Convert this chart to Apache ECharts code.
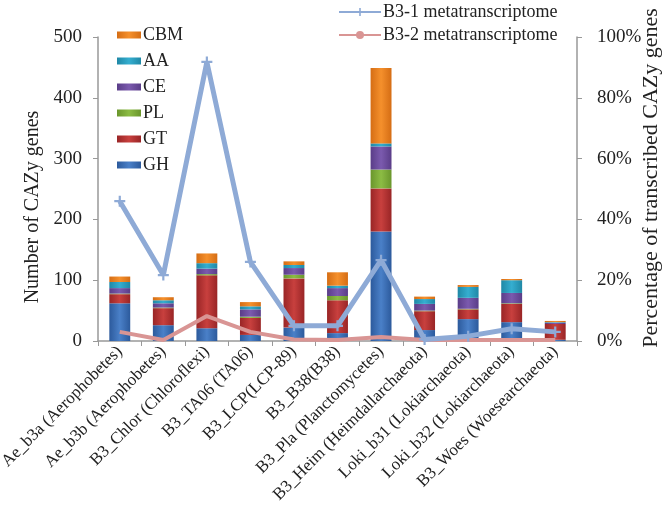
<!DOCTYPE html>
<html>
<head>
<meta charset="utf-8">
<script src="https://cdn.jsdelivr.net/npm/echarts@6/dist/echarts.min.js"></script>
<style>html,body{margin:0;padding:0;background:#fff}#c{width:666px;height:520px}</style>
</head>
<body>
<div id="c"></div>
<script>
const categories = ['Ae_b3a (Aerophobetes)','Ae_b3b (Aerophobetes)','B3_Chlor (Chloroflexi)','B3_TA06 (TA06)','B3_LCP(LCP-89)','B3_B38(B38)','B3_Pla (Planctomycetes)','B3_Heim (Heimdallarchaeota)','Loki_b31 (Lokiarchaeota)','Loki_b32 (Lokiarchaeota)','B3_Woes (Woesearchaeota)'];
const GH  = [62, 26, 21, 10, 22, 13, 180, 18, 36, 31, 2];
const GT  = [15, 28, 87, 28, 81, 54, 71, 31, 16, 30, 26];
const PL  = [1, 1, 2, 2, 6, 7, 31, 1, 1, 1, 0];
const CE  = [9, 7, 9, 12, 11, 13, 38, 11, 18, 17, 2];
const AA  = [10, 5, 9, 5, 5, 4, 5, 8, 18, 21, 1];
const CBM = [9, 5, 16, 7, 6, 22, 124, 4, 3, 2, 2];
const B31 = [46, 21.7, 91.8, 26, 5, 5, 26.6, 0.5, 1.6, 4, 3];
const B32 = [3, 0.3, 8.2, 3, 0.5, 0.3, 1.3, 0.3, 0.3, 0.3, 0.3];
const leftTicks = [0, 500, 100];
const rightTicks = [0, 100, 20];

const serif = 'Liberation Serif';
function grad(light, dark){
  return new echarts.graphic.LinearGradient(0,0,1,0,[
    {offset:0,color:dark},{offset:0.5,color:light},{offset:1,color:dark}]);
}
const stackDefs = [
  ['GH', GH, '#4a80c8', '#2c5a9c'],
  ['GT', GT, '#c8403e', '#992526'],
  ['PL', PL, '#8cbc44', '#6a962c'],
  ['CE', CE, '#7b5aae', '#5a3d88'],
  ['AA', AA, '#35aed0', '#1f88a6'],
  ['CBM', CBM, '#f5902c', '#d56d14']
];
const series = stackDefs.map(d => ({
  name: d[0], type: 'bar', stack: 'cazy', data: d[1], barWidth: '48%',
  itemStyle: {color: grad(d[2], d[3])}, emphasis:{disabled:true}
}));
series.push({
  name: 'B3-1 metatranscriptome', type: 'line', yAxisIndex: 1, data: B31,
  lineStyle: {color: '#8eaad6', width: 5}, itemStyle: {color: '#8eaad6'},
  symbol: 'path://M4,0h2v4h4v2h-4v4h-2v-4h-4v-2h4z', symbolSize: 11, z: 5
});
series.push({
  name: 'B3-2 metatranscriptome', type: 'line', yAxisIndex: 1, data: B32,
  lineStyle: {color: '#d99594', width: 4}, itemStyle: {color: '#d99594'},
  symbol: 'none', z: 4
});

const chart = echarts.init(document.getElementById('c'), null, {renderer:'canvas'});
chart.setOption({
  animation: false,
  textStyle: {fontFamily: serif, color: '#222'},
  grid: {left: 98, right: 89, top: 37, bottom: 179, containLabel: false, outerBoundsMode: 'none'},
  legend: [
    {
      data: ['CBM','AA','CE','PL','GT','GH'], orient: 'vertical', left: 112, top: 21,
      itemWidth: 24, itemHeight: 7, itemGap: 8, icon: 'rect',
      textStyle: {fontFamily: serif, fontSize: 18, color: '#222', padding: [0,0,0,-3]}
    },
    {
      data: ['B3-1 metatranscriptome','B3-2 metatranscriptome'], orient: 'vertical', left: 333, top: -2,
      itemWidth: 42, itemHeight: 10, itemGap: 5,
      textStyle: {fontFamily: serif, fontSize: 18, color: '#222', padding: [0,0,0,-3]}
    }
  ],
  xAxis: {
    type: 'category', data: categories,
    axisLine: {lineStyle: {color: '#999', width: 1.5}},
    axisTick: {show: true, alignWithLabel: false, length: 5, lineStyle:{color:'#999'}},
    axisLabel: {rotate: 45, interval: 0, fontFamily: serif, fontSize: 17, color: '#222', margin: 8}
  },
  yAxis: [
    {
      type: 'value', min: leftTicks[0], max: leftTicks[1], interval: leftTicks[2],
      name: 'Number of CAZy genes', nameLocation: 'middle', nameGap: 55, nameRotate: 90,
      nameMoveOverlap: false,
      nameTextStyle: {fontFamily: serif, fontSize: 20, color: '#222', padding: [0, 36, 0, 0]},
      axisLine: {show: true, lineStyle: {color: '#999', width: 1.5}},
      axisTick: {show: true, length: 5, lineStyle:{color:'#999'}},
      splitLine: {show: false},
      axisLabel: {fontFamily: serif, fontSize: 19, color: '#222', margin: 16}
    },
    {
      type: 'value', min: rightTicks[0], max: rightTicks[1], interval: rightTicks[2],
      name: 'Percentage of transcribed CAZy genes', nameLocation: 'middle', nameGap: 63, nameRotate: 90,
      nameMoveOverlap: false,
      nameTextStyle: {fontFamily: serif, fontSize: 22, color: '#222', padding: [0, 0, 0, 22]},
      axisLine: {show: true, lineStyle: {color: '#999', width: 1.5}},
      axisTick: {show: true, length: 5, lineStyle:{color:'#999'}},
      splitLine: {show: false},
      axisLabel: {fontFamily: serif, fontSize: 19, color: '#222', margin: 20, formatter: '{value}%'}
    }
  ],
  series: series
});
</script>
</body>
</html>
